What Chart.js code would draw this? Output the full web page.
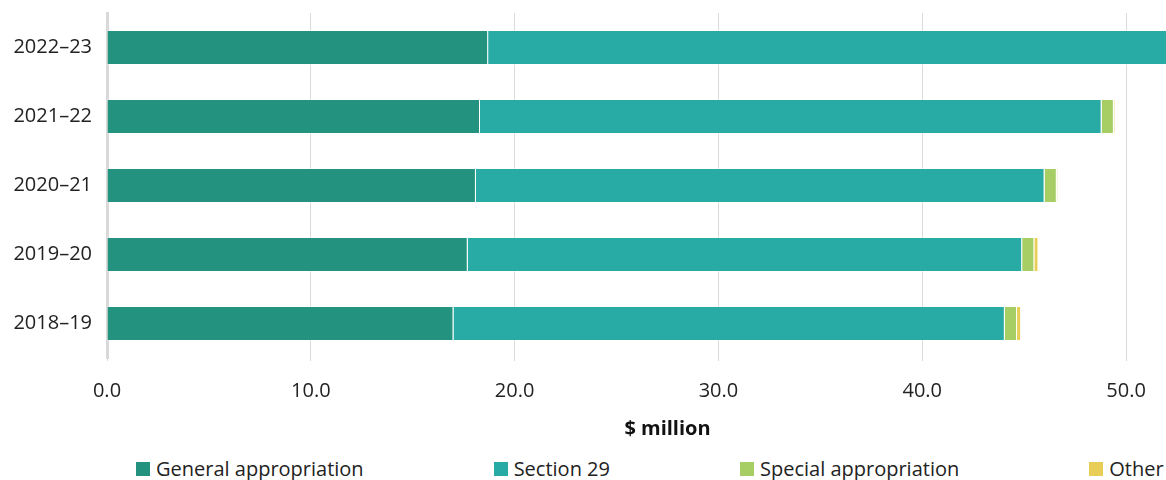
<!DOCTYPE html>
<html>
<head>
<meta charset="utf-8">
<script src="https://cdn.jsdelivr.net/npm/chart.js@4.4.1/dist/chart.umd.min.js"></script>
<style>
  html, body { margin: 0; padding: 0; background: #fff; overflow: hidden; }
  #wrap { position: relative; width: 1166px; height: 480px; overflow: hidden; }
  /* plot is wider than the window: the source image is cropped on the right */
  #plot { position: absolute; left: 0; top: 0; width: 1230px; height: 441px; }
  #legend {
    position: absolute; left: 0; top: 457px; margin: 0; padding: 0 0 0 136px;
    list-style: none; display: flex; gap: 130px; white-space: nowrap;
    font: 20px 'Open Sans', sans-serif; line-height: 24px; color: #222;
  }
  #legend li { display: flex; align-items: center; }
  #legend .box { display: inline-block; width: 14px; height: 14px; margin-right: 6px; }
</style>
</head>
<body>
<div id="wrap">
  <div id="plot"><canvas id="chart"></canvas></div>
  <ul id="legend"></ul>
</div>
<script>
// Appropriation funding by year, $ million (stacked horizontal bars)
const years = ['2022–23', '2021–22', '2020–21', '2019–20', '2018–19'];
const general = [18.7, 18.3, 18.1, 17.7, 17.0];
const section29 = [34.0, 30.5, 27.9, 27.2, 27.05];
const special = [0.6, 0.6, 0.6, 0.6, 0.6];
const other = [0.1, 0.05, 0.05, 0.2, 0.2];
const seriesNames = ['General appropriation', 'Section 29', 'Special appropriation', 'Other'];
const xTicks = [0, 10, 20, 30, 40, 50];

const colours = ['#23927f', '#27aba4', '#a6ce65', '#e8ce57'];
const txt = '#222';

Chart.defaults.font.family = "'Open Sans', sans-serif";
Chart.defaults.font.size = 20;
Chart.defaults.color = txt;

const series = [general, section29, special, other];
const datasets = series.map((vals, i) => ({
  label: seriesNames[i],
  data: vals,
  backgroundColor: colours[i],
  borderColor: 'rgba(255,255,255,0.45)',
  borderWidth: 1,
  categoryPercentage: 1,
  barPercentage: 0.505,
}));

const chart = new Chart(document.getElementById('chart'), {
  type: 'bar',
  data: { labels: years, datasets },
  options: {
    indexAxis: 'y',
    responsive: true,
    maintainAspectRatio: false,
    animation: false,
    layout: { padding: { top: 13, right: 2, bottom: 0, left: 0 } },
    plugins: {
      legend: { display: false },
      tooltip: { enabled: false },
    },
    scales: {
      x: {
        type: 'linear',
        stacked: true,
        min: 0,
        max: 55,
        afterBuildTicks: (s) => { s.ticks = xTicks.map(v => ({ value: v })); },
        ticks: { callback: (v) => v.toFixed(1), padding: 18, maxRotation: 0, color: txt },
        grid: { color: '#dadada', lineWidth: 1, drawTicks: true, tickLength: 3 },
        border: { display: false },
        title: {
          display: true,
          text: '$ million',
          color: '#111',
          font: { size: 20, weight: 'bold' },
          padding: { top: -4, bottom: 0 },
        },
      },
      y: {
        stacked: true,
        afterFit: (s) => {
          s.width = 107;
          // labels sit mid-category, no need for extra room above/below
          s.paddingTop = 0;
          s.paddingBottom = 0;
        },
        grid: { display: false, drawTicks: false },
        border: { display: true, color: '#d9d9d9', width: 3 },
        ticks: { padding: 15, color: txt },
      },
    },
  },
});

// legend as list, built from the chart's datasets
const legendEl = document.getElementById('legend');
chart.data.datasets.forEach(ds => {
  const li = document.createElement('li');
  const box = document.createElement('span');
  box.className = 'box';
  box.style.background = ds.backgroundColor;
  li.appendChild(box);
  li.appendChild(document.createTextNode(ds.label));
  legendEl.appendChild(li);
});
</script>
</body>
</html>
